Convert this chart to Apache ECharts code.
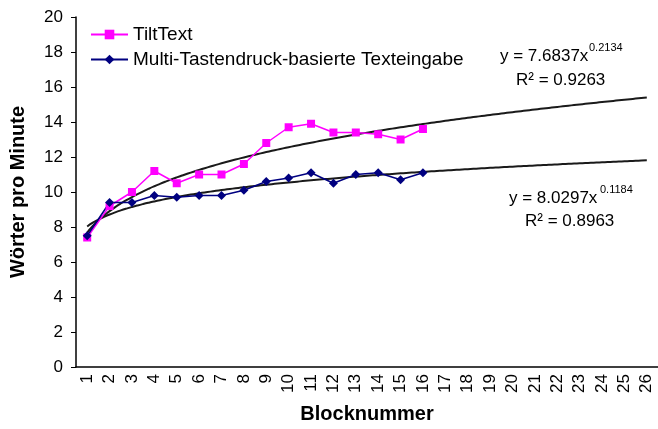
<!DOCTYPE html>
<html>
<head>
<meta charset="utf-8">
<script src="https://cdn.jsdelivr.net/npm/echarts@6/dist/echarts.min.js"></script>
<style>
  html, body { margin: 0; padding: 0; background: #fff; }
  #chart { width: 658px; height: 429px; }
</style>
</head>
<body>
<div id="chart"></div>
<script>
// block numbers on the x axis
const blocks = Array.from({ length: 26 }, (_, i) => String(i + 1));

// measured words per minute, blocks 1..16
const tiltText = [7.4, 9.2, 10.0, 11.2, 10.5, 11.0, 11.0, 11.6, 12.8, 13.7, 13.9, 13.4, 13.4, 13.3, 13.0, 13.6];
const multiTap = [7.5, 9.4, 9.4, 9.8, 9.7, 9.8, 9.8, 10.1, 10.6, 10.8, 11.1, 10.5, 11.0, 11.1, 10.7, 11.1];

// power trend lines as printed on the chart: y = a * x^b
const tiltFit = { a: 7.6837, b: 0.2134, r2: '0.9263' };
const multiFit = { a: 8.0297, b: 0.1184, r2: '0.8963' };

const fitPoints = (fit) => {
  const pts = [];
  for (let x = 1; x <= 26.001; x += 0.25) pts.push([x, fit.a * Math.pow(x, fit.b)]);
  return pts;
};

const font = '"Liberation Sans", Arial, sans-serif';

const chart = echarts.init(document.getElementById('chart'));

const txt = (text, left, top, size) => ({
  type: 'text',
  left: left,
  top: top,
  style: { text: text, fontFamily: font, fontSize: size, fill: '#000' }
});

chart.setOption({
  animation: false,
  grid: { left: 74, width: 587, top: 17, bottom: 62 },
  legend: {
    left: 85,
    top: 20,
    orient: 'vertical',
    itemGap: 6,
    itemWidth: 37,
    itemHeight: 12,
    textStyle: { fontFamily: font, fontSize: 19, color: '#000' },
    data: ['TiltText', 'Multi-Tastendruck-basierte Texteingabe']
  },
  xAxis: [
    {
      type: 'category',
      data: blocks,
      boundaryGap: true,
      name: 'Blocknummer',
      nameLocation: 'middle',
      nameGap: 37,
      nameTextStyle: { fontFamily: font, fontSize: 20, fontWeight: 'bold', color: '#000' },
      axisLine: { lineStyle: { color: '#000', width: 1.5 } },
      axisTick: { length: 6, lineStyle: { color: '#000' } },
      axisLabel: { rotate: 90, interval: 0, fontFamily: font, fontSize: 17, color: '#000', margin: 7 },
      splitLine: { show: false }
    },
    {
      type: 'value',
      min: 0.5,
      max: 26.5,
      show: false
    }
  ],
  yAxis: {
    type: 'value',
    min: 0,
    max: 20,
    interval: 2,
    name: 'Wörter pro Minute',
    nameLocation: 'middle',
    nameGap: 48,
    nameTextStyle: { fontFamily: font, fontSize: 20, fontWeight: 'bold', color: '#000' },
    axisLine: { show: true, lineStyle: { color: '#000', width: 1.5 } },
    axisTick: { show: true, length: 5, lineStyle: { color: '#000' } },
    axisLabel: { fontFamily: font, fontSize: 17, color: '#000', margin: 13 },
    splitLine: { show: false }
  },
  series: [
    {
      name: 'TiltText trend',
      type: 'line',
      xAxisIndex: 1,
      data: fitPoints(tiltFit),
      showSymbol: false,
      smooth: true,
      lineStyle: { color: '#1a1a1a', width: 2 },
      z: 1
    },
    {
      name: 'Multi trend',
      type: 'line',
      xAxisIndex: 1,
      data: fitPoints(multiFit),
      showSymbol: false,
      smooth: true,
      lineStyle: { color: '#1a1a1a', width: 2 },
      z: 1
    },
    {
      name: 'TiltText',
      type: 'line',
      data: tiltText,
      symbol: 'rect',
      symbolSize: 8,
      color: '#ff00ff',
      lineStyle: { color: '#ff00ff', width: 1.5 },
      itemStyle: { color: '#ff00ff' },
      z: 3
    },
    {
      name: 'Multi-Tastendruck-basierte Texteingabe',
      type: 'line',
      data: multiTap,
      symbol: 'diamond',
      symbolSize: 9,
      color: '#000080',
      lineStyle: { color: '#000080', width: 1.5 },
      itemStyle: { color: '#000080' },
      z: 3
    }
  ],
  graphic: [
    txt('y = ' + tiltFit.a.toFixed(4) + 'x', 500, 48, 17),
    txt(tiltFit.b.toFixed(4), 589, 42, 11),
    txt('R² = ' + tiltFit.r2, 516, 72, 17),
    txt('y = ' + multiFit.a.toFixed(4) + 'x', 509, 190, 17),
    txt(multiFit.b.toFixed(4), 600, 184, 11),
    txt('R² = ' + multiFit.r2, 525, 213, 17)
  ]
});
</script>
</body>
</html>
